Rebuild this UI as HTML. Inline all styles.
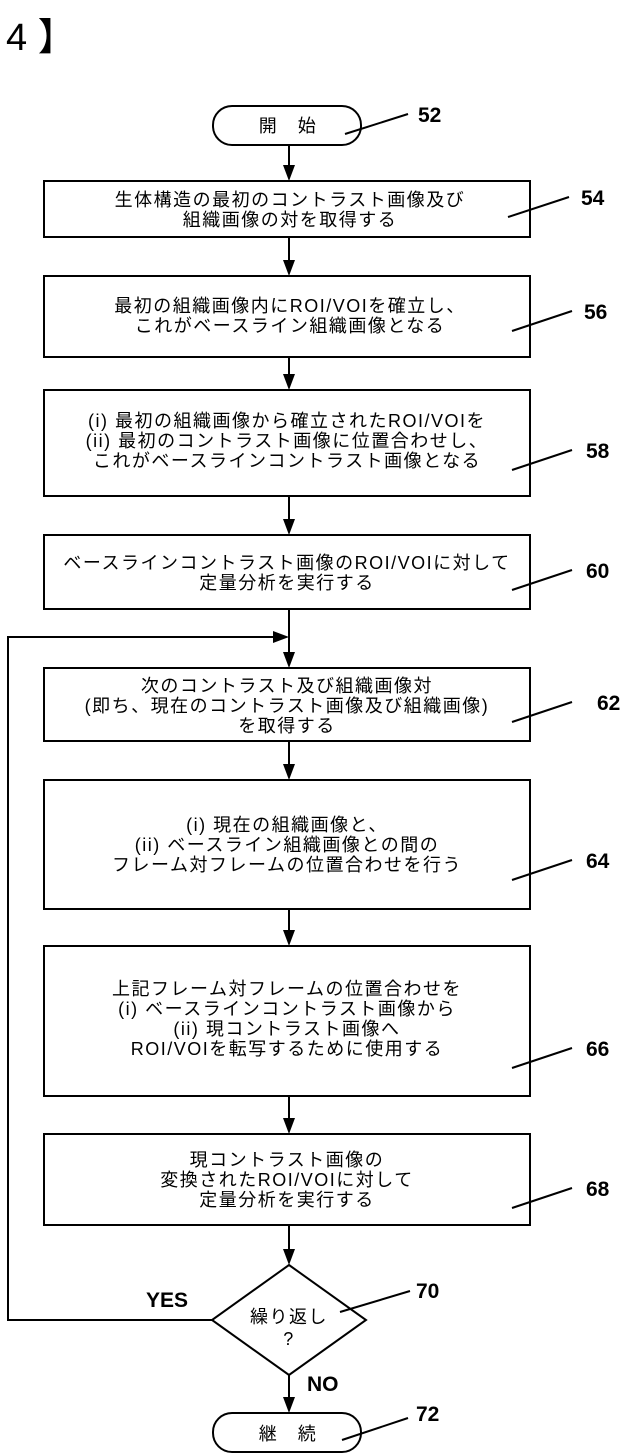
<!DOCTYPE html>
<html><head><meta charset="utf-8"><style>
html,body{margin:0;padding:0;background:#fff}
svg{display:block}
.t{font-family:"Liberation Sans","Noto Sans CJK JP",sans-serif;font-size:18px;letter-spacing:1.5px;fill:#000;text-anchor:middle}
.n{font-family:"Liberation Sans",sans-serif;font-size:21px;font-weight:bold;fill:#000}
</style></head><body>
<svg width="626" height="1455" viewBox="0 0 626 1455">
<text x="6" y="50" style="font-family:'Liberation Sans','Noto Sans CJK JP',sans-serif;font-size:38px">4 】</text>
<g fill="none" stroke="#000" stroke-width="2">
<rect x="213" y="106" width="148" height="39" rx="19"/>
<rect x="44" y="181" width="486" height="56"/>
<rect x="44" y="276" width="486" height="81"/>
<rect x="44" y="390" width="486" height="106"/>
<rect x="44" y="535" width="486" height="74"/>
<rect x="44" y="668" width="486" height="73"/>
<rect x="44" y="780" width="486" height="129"/>
<rect x="44" y="946" width="486" height="150"/>
<rect x="44" y="1134" width="486" height="91"/>
<path d="M289,1265 L366,1320 L289,1375 L212,1320z"/>
<rect x="213" y="1413" width="148" height="39" rx="19"/>
<path d="M212,1320 H8 V637 H280"/>
</g>
<g stroke="#000" stroke-width="2" fill="#000">
<line x1="289" y1="145" x2="289" y2="166"/><path d="M283,165 H295 L289,181z" stroke="none"/>
<line x1="289" y1="237" x2="289" y2="261"/><path d="M283,260 H295 L289,276z" stroke="none"/>
<line x1="289" y1="357" x2="289" y2="375"/><path d="M283,374 H295 L289,390z" stroke="none"/>
<line x1="289" y1="496" x2="289" y2="520"/><path d="M283,519 H295 L289,535z" stroke="none"/>
<line x1="289" y1="609" x2="289" y2="653"/><path d="M283,652 H295 L289,668z" stroke="none"/>
<path d="M273,631 L289,637 L273,643z" stroke="none"/>
<line x1="289" y1="741" x2="289" y2="765"/><path d="M283,764 H295 L289,780z" stroke="none"/>
<line x1="289" y1="909" x2="289" y2="931"/><path d="M283,930 H295 L289,946z" stroke="none"/>
<line x1="289" y1="1096" x2="289" y2="1119"/><path d="M283,1118 H295 L289,1134z" stroke="none"/>
<line x1="289" y1="1225" x2="289" y2="1250"/><path d="M283,1249 H295 L289,1265z" stroke="none"/>
<line x1="289" y1="1375" x2="289" y2="1398"/><path d="M283,1397 H295 L289,1413z" stroke="none"/>
</g>
<g stroke="#000" stroke-width="2">
<line x1="345" y1="134" x2="408" y2="114"/>
<line x1="508" y1="217" x2="569" y2="197"/>
<line x1="512" y1="331" x2="572" y2="311"/>
<line x1="512" y1="470" x2="572" y2="450"/>
<line x1="512" y1="590" x2="572" y2="570"/>
<line x1="512" y1="722" x2="572" y2="702"/>
<line x1="512" y1="880" x2="572" y2="860"/>
<line x1="512" y1="1068" x2="572" y2="1048"/>
<line x1="512" y1="1208" x2="572" y2="1188"/>
<line x1="340" y1="1312" x2="410" y2="1291"/>
<line x1="342" y1="1440" x2="408" y2="1418"/>
</g>
<text class="n" x="418" y="122">52</text>
<text class="n" x="581" y="205">54</text>
<text class="n" x="584" y="319">56</text>
<text class="n" x="586" y="458">58</text>
<text class="n" x="586" y="578">60</text>
<text class="n" x="597" y="710">62</text>
<text class="n" x="586" y="868">64</text>
<text class="n" x="586" y="1056">66</text>
<text class="n" x="586" y="1196">68</text>
<text class="n" x="416" y="1298">70</text>
<text class="n" x="416" y="1421">72</text>
<text class="n" x="146" y="1307">YES</text>
<text class="n" x="307" y="1391">NO</text>
<text class="t" x="288" y="132">開　始</text>
<text class="t" x="288" y="1440">継　続</text>
<text class="t" x="290" y="206">生体構造の最初のコントラスト画像及び</text>
<text class="t" x="290" y="226">組織画像の対を取得する</text>
<text class="t" x="290" y="312">最初の組織画像内にROI/VOIを確立し、</text>
<text class="t" x="290" y="332">これがベースライン組織画像となる</text>
<text class="t" x="287" y="427">(i) 最初の組織画像から確立されたROI/VOIを</text>
<text class="t" x="287" y="447">(ii) 最初のコントラスト画像に位置合わせし、</text>
<text class="t" x="287" y="467">これがベースラインコントラスト画像となる</text>
<text class="t" x="287" y="569">ベースラインコントラスト画像のROI/VOIに対して</text>
<text class="t" x="287" y="589">定量分析を実行する</text>
<text class="t" x="287" y="692">次のコントラスト及び組織画像対</text>
<text class="t" x="287" y="712">(即ち、現在のコントラスト画像及び組織画像)</text>
<text class="t" x="287" y="732">を取得する</text>
<text class="t" x="287" y="831">(i) 現在の組織画像と、</text>
<text class="t" x="287" y="851">(ii) ベースライン組織画像との間の</text>
<text class="t" x="287" y="871">フレーム対フレームの位置合わせを行う</text>
<text class="t" x="287" y="995">上記フレーム対フレームの位置合わせを</text>
<text class="t" x="287" y="1015">(i) ベースラインコントラスト画像から</text>
<text class="t" x="287" y="1035">(ii) 現コントラスト画像へ</text>
<text class="t" x="287" y="1055">ROI/VOIを転写するために使用する</text>
<text class="t" x="287" y="1166">現コントラスト画像の</text>
<text class="t" x="287" y="1186">変換されたROI/VOIに対して</text>
<text class="t" x="287" y="1206">定量分析を実行する</text>
<text class="t" x="289" y="1323">繰り返し</text>
<text class="t" x="289" y="1345">?</text>
</svg>
</body></html>
